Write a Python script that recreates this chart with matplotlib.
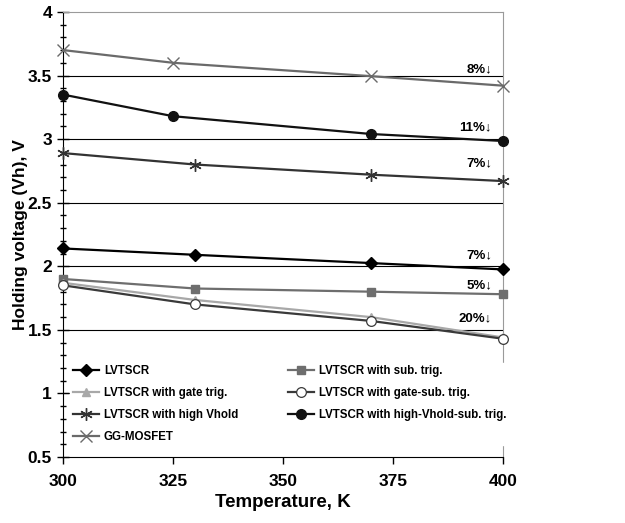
import matplotlib.pyplot as plt
from matplotlib.ticker import MultipleLocator

plt.rcParams['font.family'] = ['Liberation Sans', 'DejaVu Sans']
plt.rcParams['font.weight'] = 'bold'

# Data (temperature in K, holding voltage in V)
t_lvtscr = [300, 330, 370, 400]
v_lvtscr = [2.14, 2.09, 2.025, 1.975]

t_sub = [300, 330, 370, 400]
v_sub = [1.90, 1.825, 1.80, 1.78]

t_gate = [300, 330, 370, 400]
v_gate = [1.87, 1.735, 1.60, 1.44]

t_gatesub = [300, 330, 370, 400]
v_gatesub = [1.85, 1.70, 1.57, 1.43]

t_hv = [300, 330, 370, 400]
v_hv = [2.89, 2.80, 2.72, 2.67]

t_hvsub = [300, 325, 370, 400]
v_hvsub = [3.35, 3.18, 3.04, 2.985]

t_gg = [300, 325, 370, 400]
v_gg = [3.70, 3.60, 3.495, 3.42]

pct_labels = ['8%', '11%', '7%', '7%', '5%', '20%']
pct_y = [3.55, 3.09, 2.81, 2.09, 1.85, 1.59]

fig = plt.figure(figsize=(6.25, 5.23), dpi=100)
ax = fig.add_axes([0.1008, 0.1262, 0.704, 0.851])

for y in [1, 1.5, 2, 2.5, 3, 3.5]:
    ax.axhline(y, color='black', lw=0.8, zorder=1)

lw = 1.6
h1, = ax.plot(t_lvtscr, v_lvtscr, color='black', lw=lw, marker='D', ms=6,
              mfc='black', mec='black', label='LVTSCR', zorder=3, clip_on=False)
h2, = ax.plot(t_sub, v_sub, color='#6e6e6e', lw=lw, marker='s', ms=6,
              mfc='#6e6e6e', mec='#6e6e6e', label='LVTSCR with sub. trig.',
              zorder=3, clip_on=False)
h3, = ax.plot(t_gate, v_gate, color='#a8a8a8', lw=lw, marker='^', ms=6,
              mfc='#a8a8a8', mec='#a8a8a8', label='LVTSCR with gate trig.',
              zorder=3, clip_on=False)
h4, = ax.plot(t_gatesub, v_gatesub, color='#3a3a3a', lw=lw, marker='o', ms=7,
              mfc='white', mec='#3a3a3a', mew=0.9,
              label='LVTSCR with gate-sub. trig.', zorder=4, clip_on=False)
h5, = ax.plot(t_hv, v_hv, color='#333333', lw=lw, marker=(6, 2, 0), ms=9,
              mec='#333333', mew=1.0, label='LVTSCR with high Vhold',
              zorder=3, clip_on=False)
h6, = ax.plot(t_hvsub, v_hvsub, color='#111111', lw=lw, marker='o', ms=7,
              mfc='#111111', mec='#111111',
              label='LVTSCR with high-Vhold-sub. trig.', zorder=3, clip_on=False)
h7, = ax.plot(t_gg, v_gg, color='#6a6a6a', lw=lw, marker='x', ms=8,
              mec='#6a6a6a', mew=1.0, label='GG-MOSFET', zorder=3, clip_on=False)

for lab, y in zip(pct_labels, pct_y):
    ax.text(397.5, y, lab + '\u2193', ha='right', va='center', fontsize=9.5,
            fontweight='bold', zorder=5)

ax.set_xlim(300, 400)
ax.set_ylim(0.5, 4)
ax.xaxis.set_major_locator(MultipleLocator(25))
ax.yaxis.set_major_locator(MultipleLocator(0.5))
ax.yaxis.set_minor_locator(MultipleLocator(0.1))
ax.yaxis.set_major_formatter(plt.FuncFormatter(lambda v, p: ('%g' % v)))

ax.tick_params(axis='y', which='major', direction='inout', length=8, width=1,
               labelsize=12.5, pad=4)
ax.tick_params(axis='y', which='minor', direction='inout', length=5, width=1)
ax.tick_params(axis='x', which='major', direction='out', length=5, width=1,
               labelsize=12.5, pad=7)
for lbl in ax.get_xticklabels() + ax.get_yticklabels():
    lbl.set_fontweight('bold')

ax.spines['left'].set_color('black')
ax.spines['bottom'].set_color('black')
ax.spines['top'].set_color('#9a9a9a')
ax.spines['right'].set_color('#9a9a9a')

ax.set_xlabel('Temperature, K', fontsize=13.5, fontweight='bold', labelpad=4)
ax.set_ylabel('Holding voltage (Vh), V', fontsize=12.5, fontweight='bold',
              labelpad=0)

# column-major order so rows read left-to-right as in the original
handles = [h1, h3, h5, h7, h2, h4, h6]
leg = ax.legend(handles=handles, labels=[h.get_label() for h in handles],
                loc='lower left', bbox_to_anchor=(0.017, 0.027), ncol=2,
                frameon=True, fancybox=False, edgecolor='white', framealpha=1,
                prop={'weight': 'bold', 'size': 8.3},
                handlelength=2.3, handletextpad=0.4, columnspacing=4.3,
                labelspacing=0.86, borderaxespad=0, borderpad=0.2)
leg.set_zorder(6)

fig.savefig('out.png', dpi=100)
